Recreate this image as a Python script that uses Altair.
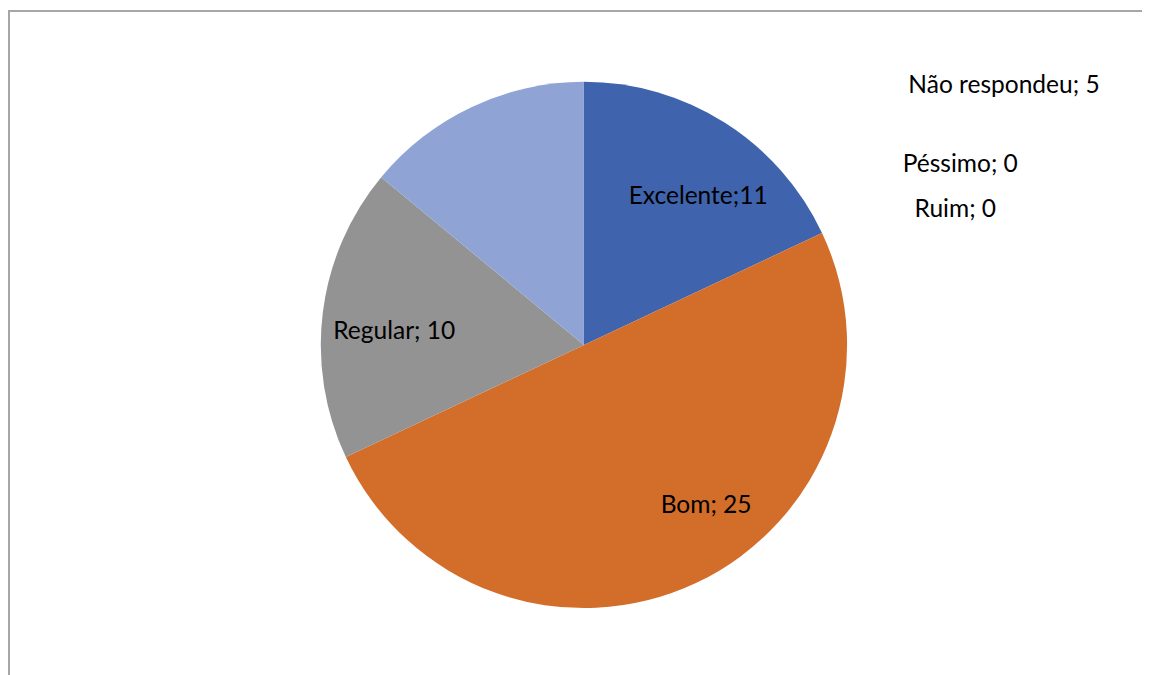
import altair as alt
import pandas as pd

# ---- data ----
categories = ["Excelente", "Bom", "Regular", "Ruim", "Péssimo", "Não respondeu"]
counts = [11, 25, 10, 0, 0, 5]            # values written in the labels
shares = [18, 50, 18, 0, 0, 14]           # slice sizes as drawn (percent of circle)
separators = [";", "; ", "; ", "; ", "; ", "; "]
colors = ["#3f64ad", "#d36e2a", "#939393", "#7a9bd0", "#5b7fc4", "#8fa3d5"]

# ---- layout (label anchor points, pixels in the chart) ----
label_x = [695, 703, 389, 954, 959, 1003]
label_y = [188, 499, 324, 201, 156, 76]

labels = [f"{c}{s}{n}" for c, s, n in zip(categories, separators, counts)]
df = pd.DataFrame({
    "categoria": categories,
    "share": shares,
    "ordem": list(range(len(categories))),
    "rotulo": labels,
    "lx": label_x,
    "ly": label_y,
})

W, H = 1142, 667
CX, CY, R = 580, 337, 265

pie = alt.Chart(df).mark_arc(outerRadius=R).encode(
    theta=alt.Theta("share:Q", stack=True),
    order=alt.Order("ordem:Q"),
    color=alt.Color("categoria:N", scale=alt.Scale(domain=categories, range=colors), legend=None),
    x=alt.value(CX),
    y=alt.value(CY),
)

frame = alt.Chart(df).mark_rect(
    fill="transparent", stroke="#a6a6a6", strokeWidth=1.5
).encode(
    x=alt.value(0.75), x2=alt.value(W + 50), y=alt.value(1), y2=alt.value(H + 50)
)

text = alt.Chart(df).mark_text(
    font="Lato", fontSize=24.7, color="#000000", align="center", baseline="middle"
).encode(
    x=alt.X("lx:Q", scale=None),
    y=alt.Y("ly:Q", scale=None),
    text="rotulo:N",
)

chart = alt.layer(frame, pie, text).properties(
    width=W, height=H, padding=0, background="white",
    autosize=alt.AutoSizeParams(type="none"),
).configure_view(stroke=None)

chart.save("out.html", embed_options={"renderer": "svg", "actions": False})
